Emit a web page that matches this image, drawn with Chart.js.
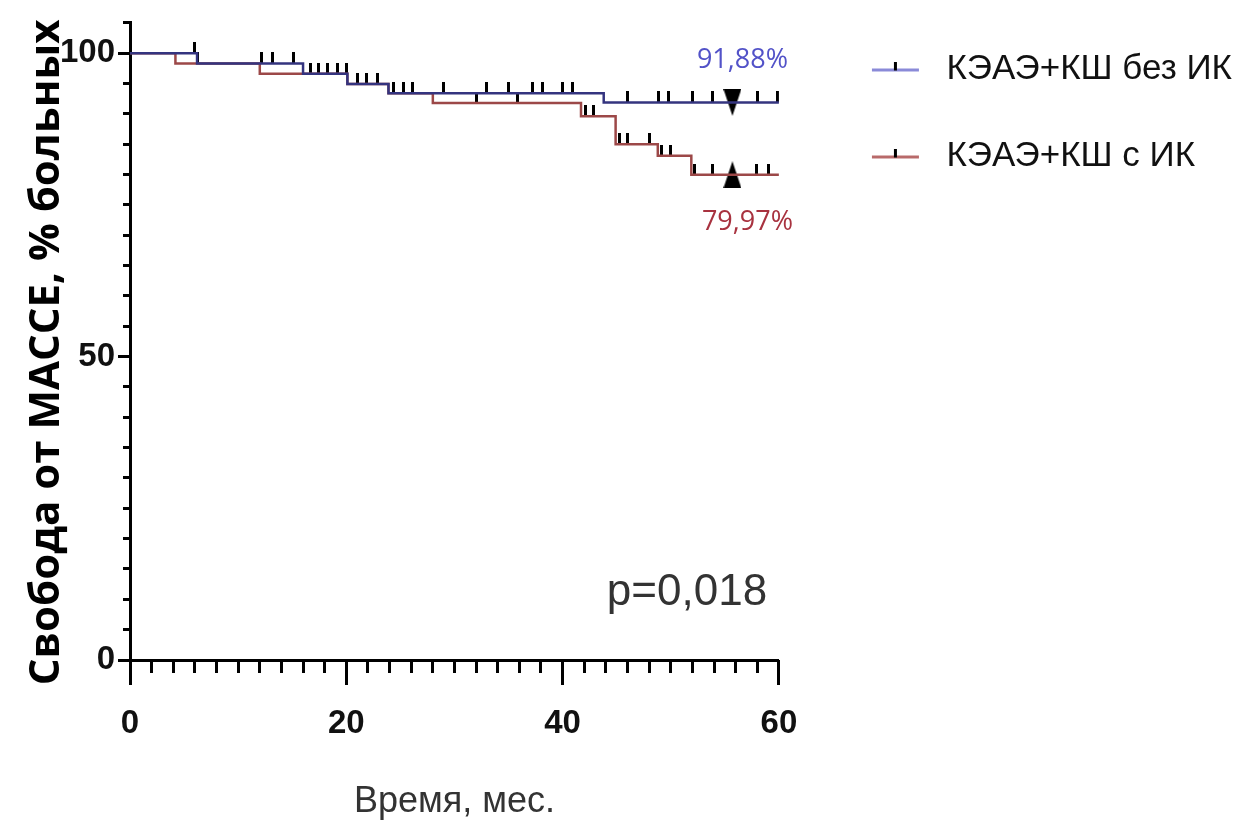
<!DOCTYPE html>
<html>
<head>
<meta charset="utf-8">
<script src="https://cdn.jsdelivr.net/npm/chart.js@4"></script>
<style>
  html, body { margin: 0; padding: 0; background: #fff; }
</style>
</head>
<body>
<canvas id="kmChart" width="1258" height="825"></canvas>
<script>
// Kaplan-Meier steps: month of the event and survival (%) after it
const seriesNames = ['КЭАЭ+КШ без ИК', 'КЭАЭ+КШ с ИК'];
const noCpbTimes = [0, 6.2, 16, 20.1, 23.9, 43.8, 60];
const noCpbSurv = [100, 98.3, 96.6, 94.9, 93.4, 91.88, 91.88];
const cpbTimes = [0, 4.2, 12, 20.1, 23.9, 28, 41.7, 44.9, 48.8, 51.9, 60];
const cpbSurv = [100, 98.3, 96.6, 94.9, 93.4, 91.8, 89.6, 85.0, 83.1, 79.97, 79.97];

// censored observations (months)
const noCpbCensored = [6.0, 12.2, 13.2, 15.1, 16.7, 18.3, 20.0, 21.0, 22.9, 25.3, 29.0, 33.0, 35.0, 37.2, 38.1, 40.0, 40.9,
  46.0, 48.9, 49.8, 52.0, 53.9, 58.0, 59.9];
const cpbCensored = [6.2, 17.4, 19.2, 21.9, 24.4, 26.1, 32.0, 35.8, 42.1, 42.9, 45.3, 46.0, 48.0, 49.1, 50.0,
  52.2, 53.9, 57.9, 59.0];

const markerMonth = 55.7;
const finalLabels = ['91,88%', '79,97%'];
const pValueText = 'p=0,018';
const xTitle = 'Время, мес.';
const yTitle = 'Свобода от МАССЕ, % больных';

const blueLine = '#34347f';
const redLine = '#9c4848';

function survAt(times, surv, t) {
  let v = surv[0];
  for (let i = 0; i < times.length; i++) if (times[i] <= t) v = surv[i];
  return v;
}

function tickImage() {
  const c = document.createElement('canvas');
  c.width = 3; c.height = 22;
  const g = c.getContext('2d');
  g.fillStyle = '#000';
  g.fillRect(0, 0, 3, 11);
  return c;
}

function triangleImage(down) {
  const c = document.createElement('canvas');
  c.width = 18; c.height = 27;
  const g = c.getContext('2d');
  g.fillStyle = '#000';
  g.beginPath();
  if (down) { g.moveTo(0, 0); g.lineTo(18, 0); g.lineTo(9, 27); }
  else { g.moveTo(9, 0); g.lineTo(18, 27); g.lineTo(0, 27); }
  g.closePath();
  g.fill();
  return c;
}

const legendBoxW = 98;
function legendImage(color) {
  const c = document.createElement('canvas');
  c.width = legendBoxW; c.height = 16;
  const g = c.getContext('2d');
  g.fillStyle = color;
  g.fillRect(legendBoxW - 57, 7, 47, 3);
  g.fillStyle = '#000';
  g.fillRect(legendBoxW - 35, 0, 3, 9);
  return c;
}

const censorImg = tickImage();
const legendImgs = [legendImage('#8a8ad8'), legendImage('#b86a6a')];

const toPoints = (times, surv) => times.map((t, i) => ({ x: t, y: surv[i] }));

const annotations = {
  id: 'annotations',
  afterDatasetsDraw(chart) {
    const { ctx, scales: { x, y } } = chart;
    const mx = x.getPixelForValue(markerMonth) + 10;
    ctx.save();
    ctx.textAlign = 'center';
    ctx.textBaseline = 'middle';
    ctx.font = '27px "Open Sans"';
    ctx.fillStyle = '#5252c8';
    ctx.fillText(finalLabels[0], mx, y.getPixelForValue(noCpbSurv[noCpbSurv.length - 1]) - 42);
    ctx.fillStyle = '#a8323f';
    ctx.fillText(finalLabels[1], mx + 5, y.getPixelForValue(cpbSurv[cpbSurv.length - 1]) + 48);
    ctx.font = '44px "Liberation Sans"';
    ctx.fillStyle = '#333';
    ctx.fillText(pValueText, x.getPixelForValue(51.5), y.getPixelForValue(11));
    ctx.restore();
  }
};

const ctx = document.getElementById('kmChart').getContext('2d');
const kmChart = new Chart(ctx, {
  type: 'line',
  data: {
    datasets: [
      { label: seriesNames[0], data: toPoints(noCpbTimes, noCpbSurv), stepped: true,
        borderColor: blueLine, backgroundColor: blueLine, borderWidth: 2.5, pointRadius: 0, fill: false },
      { label: seriesNames[1], data: toPoints(cpbTimes, cpbSurv), stepped: true,
        borderColor: redLine, backgroundColor: redLine, borderWidth: 2.5, pointRadius: 0, fill: false },
      { label: 'censored 1', type: 'scatter', data: noCpbCensored.map(t => ({ x: t, y: survAt(noCpbTimes, noCpbSurv, t) })),
        pointStyle: censorImg, pointRadius: 5 },
      { label: 'censored 2', type: 'scatter', data: cpbCensored.map(t => ({ x: t, y: survAt(cpbTimes, cpbSurv, t) })),
        pointStyle: censorImg, pointRadius: 5 },
      { label: 'marker 1', type: 'scatter', data: [{ x: markerMonth, y: survAt(noCpbTimes, noCpbSurv, markerMonth) }],
        pointStyle: triangleImage(true), pointRadius: 10 },
      { label: 'marker 2', type: 'scatter', data: [{ x: markerMonth, y: survAt(cpbTimes, cpbSurv, markerMonth) }],
        pointStyle: triangleImage(false), pointRadius: 10 }
    ]
  },
  options: {
    responsive: false,
    animation: false,
    layout: { padding: { left: 0, right: 16, top: 0, bottom: 0 } },
    plugins: {
      tooltip: { enabled: false },
      title: { display: true, text: ' ', fullSize: false, font: { size: 10 }, padding: { top: 0, bottom: 8 } },
      legend: {
        position: 'right',
        align: 'start',
        maxWidth: 520,
        labels: {
          usePointStyle: true,
          pointStyleWidth: legendBoxW,
          padding: 52,
          color: '#111',
          font: { family: '"Liberation Sans", Arial', size: 35 },
          generateLabels(chart) {
            const items = Chart.defaults.plugins.legend.labels.generateLabels(chart).filter(i => i.datasetIndex < 2);
            items.forEach(i => { i.pointStyle = legendImgs[i.datasetIndex]; });
            return items;
          }
        }
      }
    },
    scales: {
      x: {
        type: 'linear', position: 'bottom', min: 0, max: 60, weight: 1,
        afterFit(s) { s.height = 165; },
        border: { color: '#000', width: 3 },
        grid: { drawOnChartArea: false, tickLength: 25, tickWidth: 3, tickColor: '#000' },
        ticks: { stepSize: 20, padding: 19, maxRotation: 0, color: '#111',
          font: { family: '"Liberation Sans", Arial', size: 33, weight: 'bold' } },
        title: { display: true, text: xTitle, color: '#333',
          font: { family: '"Liberation Sans", Arial', size: 36 }, padding: { top: 0, bottom: 1 } }
      },
      xMinor: {
        type: 'linear', position: 'bottom', min: 0, max: 60, weight: 0,
        afterFit(s) { s.height = 0; },
        border: { display: false },
        grid: { drawOnChartArea: false, tickLength: 13, tickWidth: 3, tickColor: '#000' },
        ticks: { stepSize: 2, display: false }
      },
      y: {
        type: 'linear', position: 'left', min: 0, max: 105, weight: 1,
        afterFit(s) { s.width = 130; },
        border: { color: '#000', width: 3 },
        grid: { drawOnChartArea: false, tickLength: 12, tickWidth: 3, tickColor: '#000' },
        ticks: { stepSize: 50, includeBounds: false, padding: 3, color: '#111',
          font: { family: '"Liberation Sans", Arial', size: 33, weight: 'bold' } },
        title: { display: true, text: yTitle + '\u00a0\u00a0', color: '#000',
          font: { family: '"Open Sans"', size: 42, weight: 'bold', lineHeight: 1.2 }, padding: { top: 22, bottom: 0 } }
      },
      yMinor: {
        type: 'linear', position: 'left', min: 0, max: 105, weight: 0,
        afterFit(s) { s.width = 0; },
        border: { display: false },
        grid: { drawOnChartArea: false, tickLength: 7, tickWidth: 3, tickColor: '#000' },
        ticks: { stepSize: 5, display: false }
      }
    }
  },
  plugins: [annotations]
});
</script>
</body>
</html>
